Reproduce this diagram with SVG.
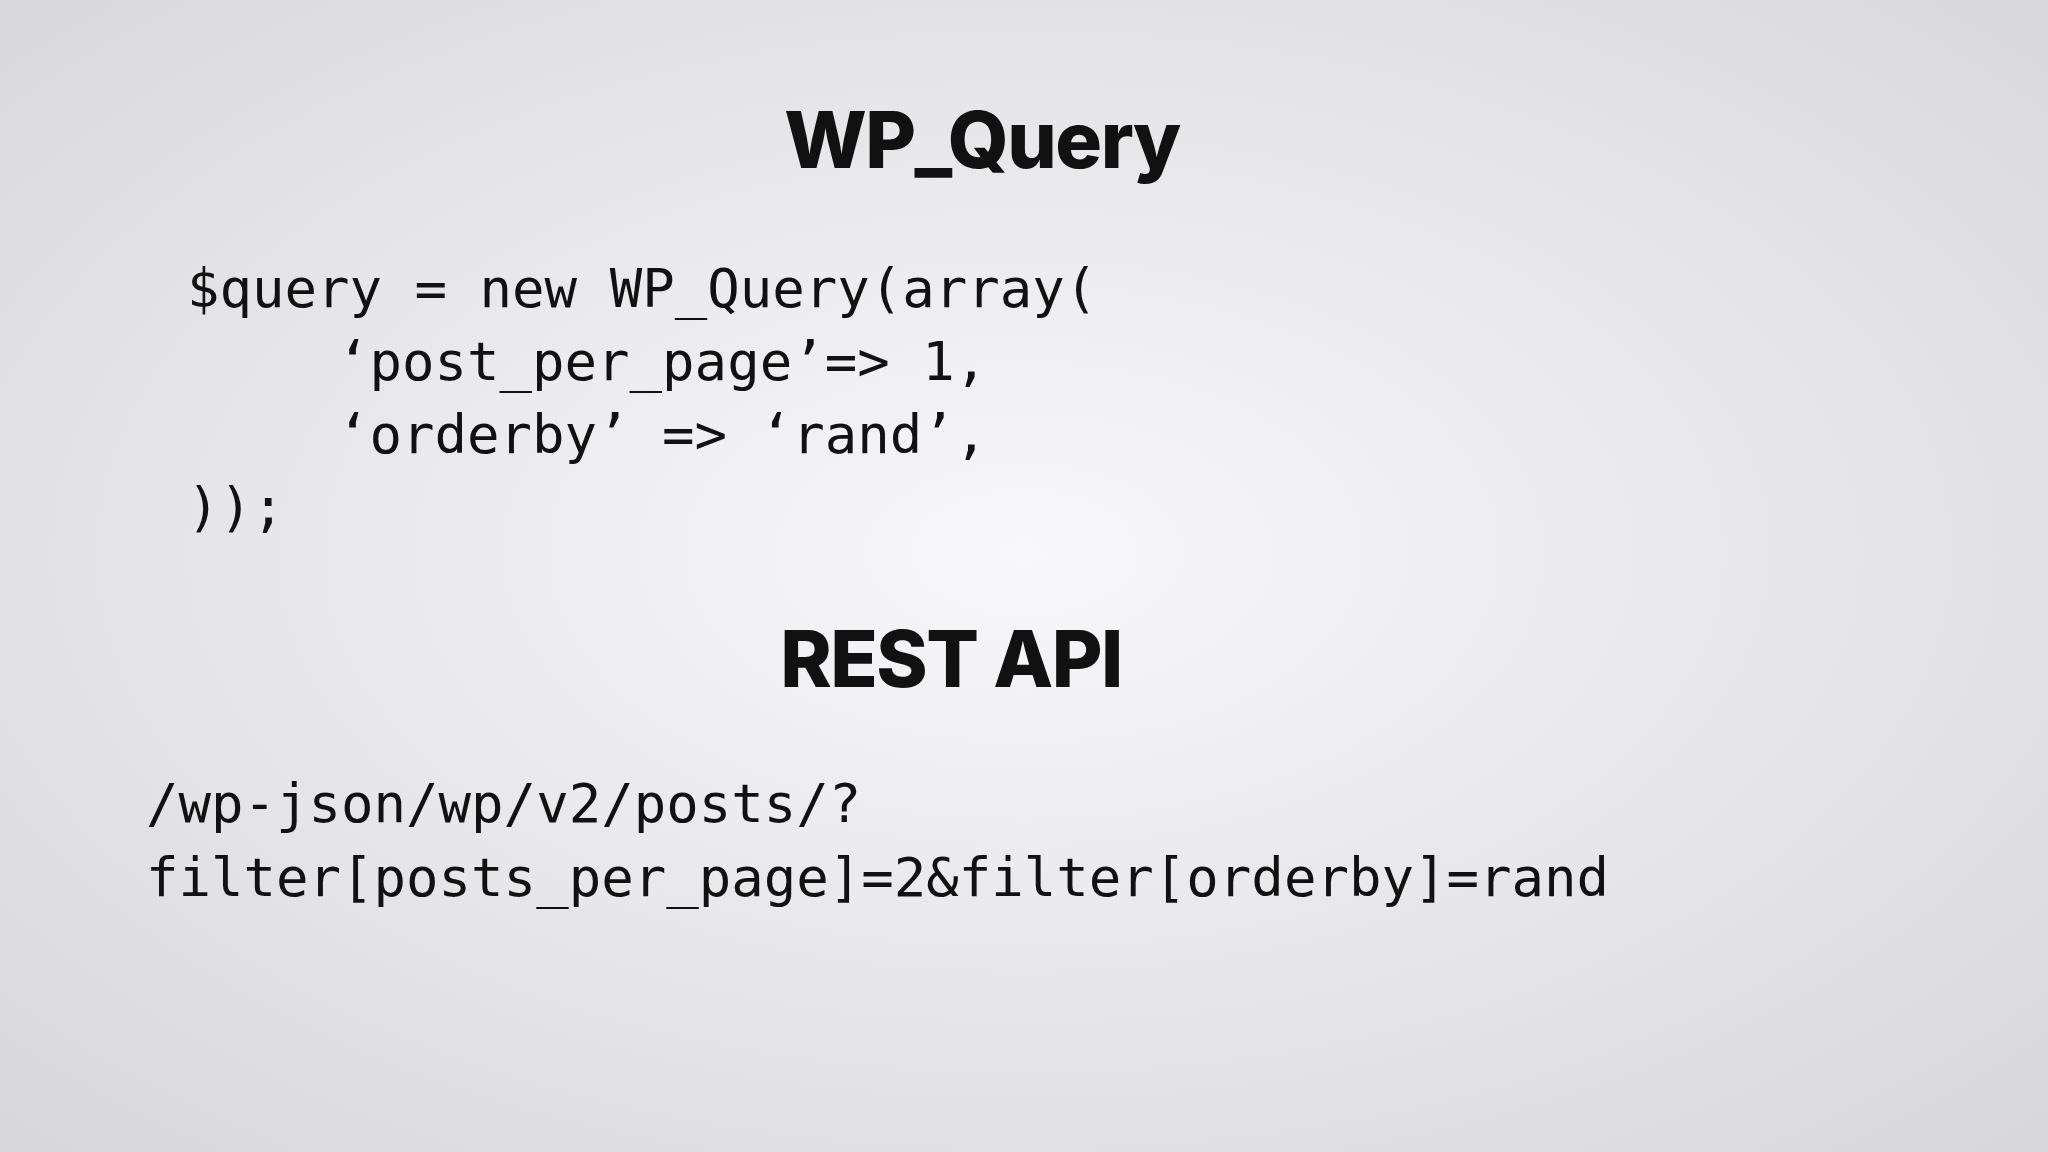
<svg xmlns="http://www.w3.org/2000/svg" width="2048" height="1152" viewBox="0 0 2048 1152">
<defs>
<radialGradient id="bg" cx="50%" cy="48%" r="75%">
<stop offset="0" stop-color="#f8f8fa"/>
<stop offset="1" stop-color="#d6d6d9"/>
</radialGradient>
<style>
.h{font-family:"Inter","Liberation Sans",sans-serif;font-weight:800;font-size:78px;fill:#111;text-anchor:middle;letter-spacing:-1.5px}
.c{font-family:"DejaVu Sans Mono",monospace;font-size:54px;fill:#111}
</style>
</defs>
<rect width="2048" height="1152" fill="url(#bg)"/>
<g id="title1"><text class="h" x="982" y="168">WP_Query</text></g>
<g id="code1">
<text class="c" x="187" y="307">$query = new WP_Query(array(</text>
<text class="c" x="337" y="380">‘post_per_page’=&gt; 1,</text>
<text class="c" x="337" y="453">‘orderby’ =&gt; ‘rand’,</text>
<text class="c" x="187" y="526">));</text>
</g>
<g id="title2"><text class="h" x="951" y="687">REST API</text></g>
<g id="code2">
<text class="c" x="146" y="822">/wp-json/wp/v2/posts/?</text>
<text class="c" x="146" y="896">filter[posts_per_page]=2&amp;filter[orderby]=rand</text>
</g>
</svg>
